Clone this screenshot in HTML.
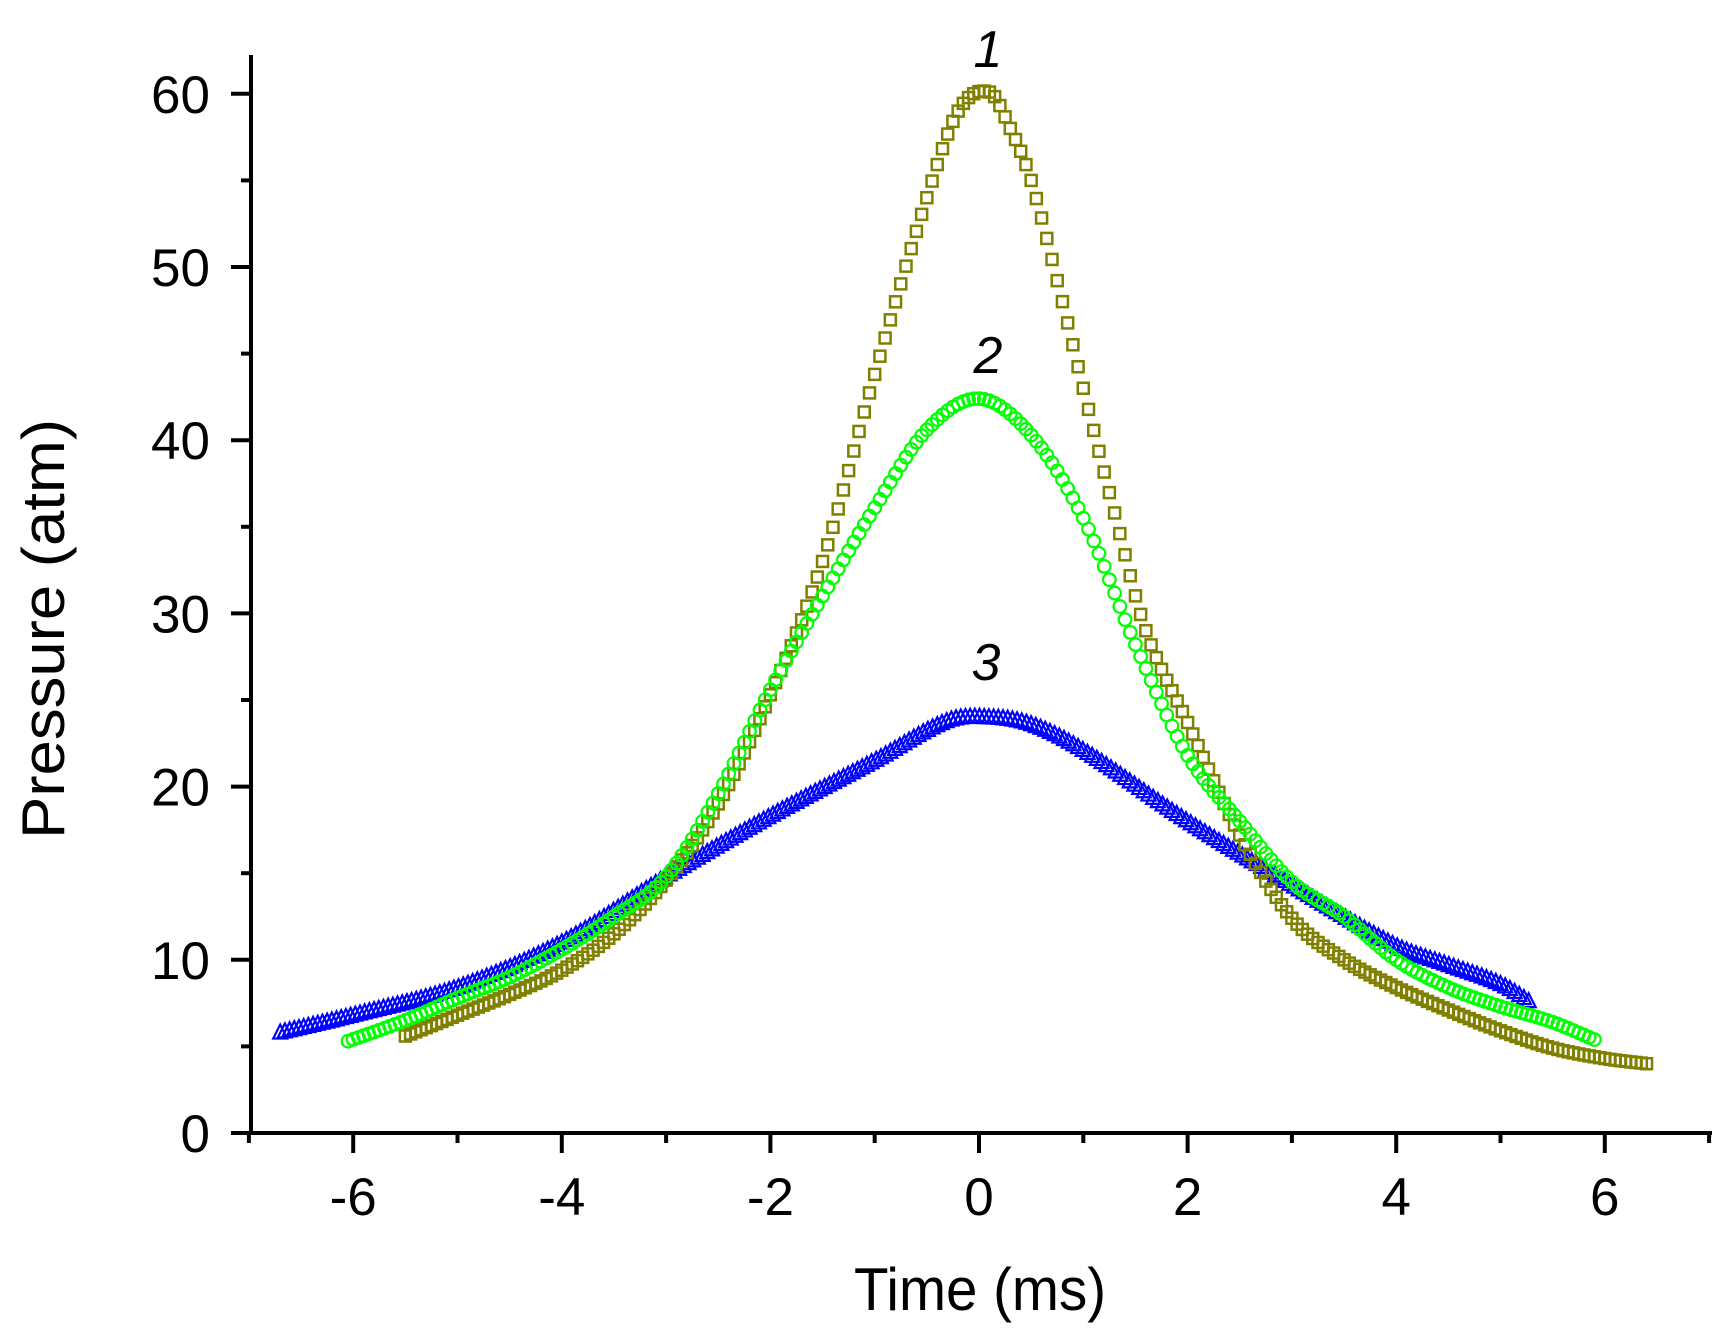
<!DOCTYPE html>
<html><head><meta charset="utf-8"><style>
html,body{margin:0;padding:0;background:#fff}
svg{display:block}
text{font-family:"Liberation Sans",Arial,sans-serif;fill:#000}
</style></head><body>
<svg id="s" width="1730" height="1335" xmlns="http://www.w3.org/2000/svg">
<g stroke="#000" stroke-width="4" fill="none" stroke-linecap="square">
<line x1="251" y1="57" x2="251" y2="1133"/>
<line x1="251" y1="1133" x2="1710" y2="1133"/>
</g>
<g id="ticks" stroke="#000" stroke-width="4"></g>
<g id="labels" font-size="53"></g>
<text x="980" y="1310" font-size="60" text-anchor="middle" textLength="252" lengthAdjust="spacingAndGlyphs">Time (ms)</text>
<text transform="translate(64,629) rotate(-90)" font-size="60" text-anchor="middle" textLength="420" lengthAdjust="spacingAndGlyphs">Pressure (atm)</text>
<text x="988" y="67" font-size="52" font-style="italic" text-anchor="middle">1</text>
<text x="988" y="373" font-size="52" font-style="italic" text-anchor="middle">2</text>
<text x="986" y="680" font-size="52" font-style="italic" text-anchor="middle">3</text>
<g id="d"></g>
</svg>
<script>
var NS="http://www.w3.org/2000/svg";
function X(t){return 979+104.3*t}
function Y(p){return 1133-17.32*p}
function el(tag,attrs,parent){var e=document.createElementNS(NS,tag);for(var k in attrs)e.setAttribute(k,attrs[k]);parent.appendChild(e);return e}
var tk=document.getElementById('ticks'),lb=document.getElementById('labels');
for(var v=-7;v<=7;v++){var x=X(v);var maj=(v%2===0);el('line',{x1:x,y1:1133,x2:x,y2:1133+(maj?20:10)},tk);
 if(maj){var t=el('text',{x:x,y:1215,'text-anchor':'middle'},lb);t.textContent=v;}}
for(var p=0;p<=60;p+=5){var y=Y(p);var maj=(p%10===0);el('line',{x1:251,y1:y,x2:251-(maj?20:10),y2:y},tk);
 if(maj){var t=el('text',{x:210,y:y+19,'text-anchor':'end'},lb);t.textContent=p;}}
var c1=[[-5.5,5.6],[-5,6.8],[-4.5,8.0],[-4,9.4],[-3.5,11.5],[-3,14.6],[-2.5,19.0],[-2,25.3],[-1.5,33],[-1,43.8],[-0.5,54],[-0.2,59],[0.1,60.1],[0.3,58],[0.5,55],[0.8,48],[1,43],[1.3,35.8],[1.6,29],[2,23.7],[2.5,17.2],[3,12.4],[3.5,10],[4,8.4],[4.5,7.1],[5,5.9],[5.5,4.9],[6,4.3],[6.4,4.0]];
var c2=[[-6.05,5.3],[-5.5,6.5],[-5,7.8],[-4.5,9.0],[-4,10.6],[-3.5,12.5],[-3,14.8],[-2.5,19.6],[-2,25.6],[-1.5,31],[-1,36.1],[-0.5,40.6],[0,42.4],[0.5,40.3],[1,35.5],[1.5,28.2],[2,21.8],[2.5,18],[3,14.5],[3.5,12.5],[4,10],[4.5,8.4],[5,7.3],[5.5,6.4],[5.9,5.4]];
var c3=[[-6.7,5.8],[-6,6.8],[-5,8.4],[-4,11],[-3,14.8],[-2,18.3],[-1,21.5],[-0.3,23.8],[0.1,24],[0.5,23.6],[1,22.1],[2,18.0],[3,14.3],[4,10.8],[4.5,9.7],[5,8.6],[5.3,7.5]];
function interp(c,x){for(var i=0;i<c.length-1;i++){if(x<=c[i+1][0]){var p0=c[Math.max(i-1,0)],p1=c[i],p2=c[i+1],p3=c[Math.min(i+2,c.length-1)];var t=(x-p1[0])/(p2[0]-p1[0]);
 var m1=(p2[1]-p0[1])/(p2[0]-p0[0])*(p2[0]-p1[0]),m2=(p3[1]-p1[1])/(p3[0]-p1[0])*(p2[0]-p1[0]);
 var t2=t*t,t3=t2*t;return (2*t3-3*t2+1)*p1[1]+(t3-2*t2+t)*m1+(-2*t3+3*t2)*p2[1]+(t3-t2)*m2;}}return c[c.length-1][1]}
var d=document.getElementById('d');
function series(c,dx,fn){for(var x=c[0][0];x<=c[c.length-1][0]+1e-9;x+=dx){fn(X(x),Y(interp(c,x)));}}
var g3=el('g',{stroke:'#0000ff','stroke-width':2.2,fill:'none'},d);
series(c3,0.045,function(x,y){el('polygon',{points:(x-7)+','+(y+6)+' '+(x+7)+','+(y+6)+' '+x+','+(y-8)},g3)});
var g1=el('g',{stroke:'#808000','stroke-width':2.5,fill:'none'},d);
series(c1,0.05,function(x,y){el('rect',{x:x-5.5,y:y-5.5,width:11,height:11},g1)});
var g2=el('g',{stroke:'#00ff00','stroke-width':2.2,fill:'none'},d);
series(c2,0.05,function(x,y){el('circle',{cx:x,cy:y,r:6.3},g2)});
</script>
</body></html>
